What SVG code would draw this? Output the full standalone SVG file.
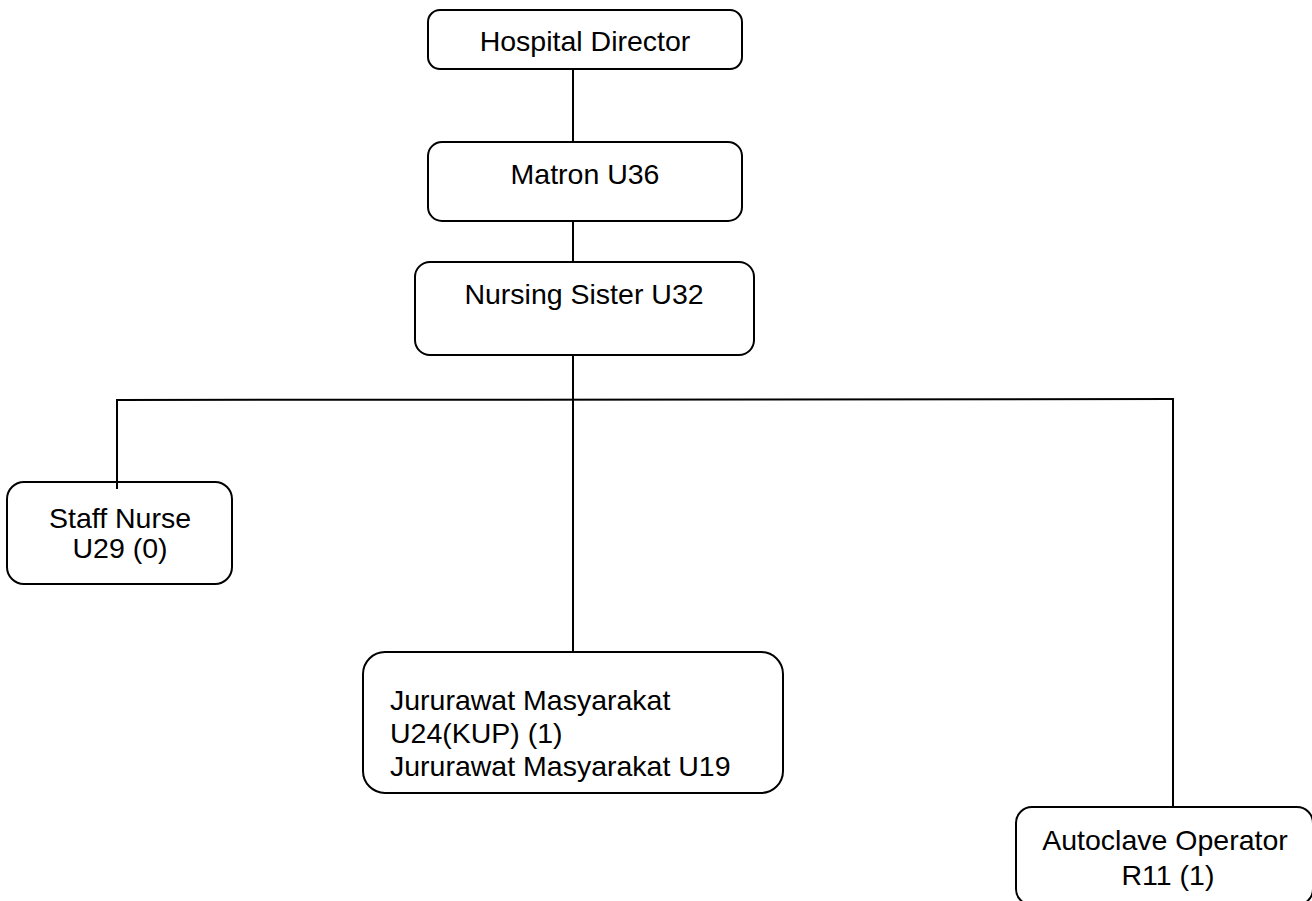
<svg xmlns="http://www.w3.org/2000/svg" width="1312" height="901" viewBox="0 0 1312 901">
  <style>
    .box { fill: #ffffff; stroke: #000000; stroke-width: 2; }
    .wire { fill: none; stroke: #000000; stroke-width: 2; }
    .lbl { font-family: "Liberation Sans", Arial, sans-serif; font-size: 28.5px; fill: #000000; }
    .mid { text-anchor: middle; }
  </style>
  <rect x="0" y="0" width="1312" height="901" fill="#ffffff"/>

  <g id="hospital-director">
    <rect class="box" x="428" y="10" width="314" height="59" rx="12"/>
    <text class="lbl mid" x="585" y="51">Hospital Director</text>
  </g>

  <g id="matron">
    <rect class="box" x="428" y="142" width="314" height="79" rx="14"/>
    <text class="lbl mid" x="585" y="184">Matron U36</text>
  </g>

  <g id="nursing-sister">
    <rect class="box" x="415" y="262" width="339" height="93" rx="15"/>
    <text class="lbl mid" x="584" y="304">Nursing Sister U32</text>
  </g>

  <g id="staff-nurse">
    <rect class="box" x="7" y="482" width="225" height="102" rx="17"/>
    <text class="lbl mid" x="120" y="528">Staff Nurse</text>
    <text class="lbl mid" x="120" y="558">U29 (0)</text>
  </g>

  <g id="jururawat-masyarakat">
    <rect class="box" x="363" y="652" width="420" height="141" rx="22"/>
    <text class="lbl" x="390" y="710">Jururawat Masyarakat</text>
    <text class="lbl" x="390" y="743">U24(KUP) (1)</text>
    <text class="lbl" x="390" y="776">Jururawat Masyarakat U19</text>
  </g>

  <g id="autoclave-operator">
    <rect class="box" x="1016" y="807" width="297" height="98" rx="16"/>
    <text class="lbl mid" x="1165" y="850">Autoclave Operator</text>
    <text class="lbl mid" x="1168" y="885">R11 (1)</text>
  </g>

  <!-- connectors drawn last; the Staff Nurse drop pokes slightly into its box -->
  <g id="connectors">
    <line class="wire" x1="573" y1="69" x2="573" y2="142"/>
    <line class="wire" x1="573" y1="221" x2="573" y2="262"/>
    <line class="wire" x1="573" y1="355" x2="573" y2="652"/>
    <line class="wire" x1="117" y1="400" x2="1174" y2="399"/>
    <line class="wire" x1="117" y1="399" x2="117" y2="489"/>
    <line class="wire" x1="1173" y1="399" x2="1173" y2="807"/>
  </g>
</svg>
